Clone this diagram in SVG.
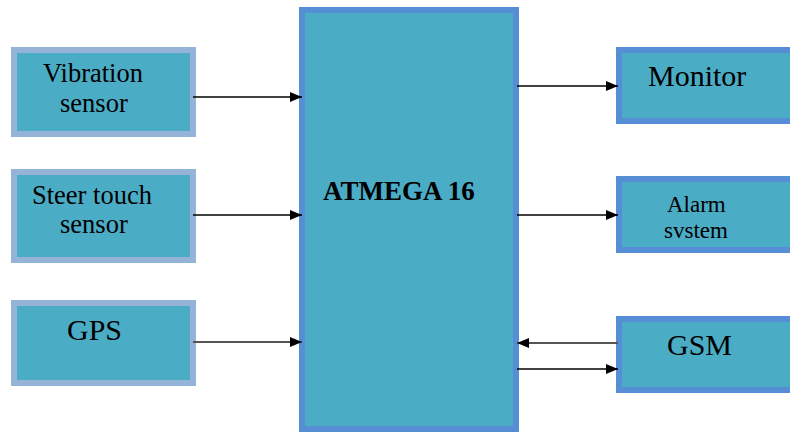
<svg xmlns="http://www.w3.org/2000/svg" width="790" height="433" viewBox="0 0 790 433">
<defs>
<marker id="ah" markerWidth="12" markerHeight="10" refX="12" refY="5" orient="auto" markerUnits="userSpaceOnUse">
<path d="M0,0 L12,5 L0,10 Z" fill="#000"/>
</marker>
</defs>
<style>
.box{fill:#4bacc6}
.lb{stroke:#95b3d7;stroke-width:6}
.rb{stroke:#558ed5;stroke-width:6}
text{fill:#000;font-family:Liberation Serif, DejaVu Serif, serif}
.c{stroke:#000;stroke-width:1.6;fill:none;marker-end:url(#ah)}
.g{stroke:#555;stroke-width:2}
</style>
<rect width="790" height="433" fill="#fff"/>
<g id="atmega">
<rect class="box rb" x="302" y="10" width="214" height="419"/>
<text x="323" y="200" font-size="27" font-weight="bold">ATMEGA 16</text>
</g>
<g id="vibration">
<rect class="box lb" x="14" y="50" width="179" height="84"/>
<text x="43" y="82" font-size="26.5">Vibration</text>
<text x="60" y="112" font-size="26.5">sensor</text>
</g>
<g id="steer">
<rect class="box lb" x="14" y="172" width="179" height="88"/>
<text x="32" y="204" font-size="26.5">Steer touch</text>
<text x="60" y="233" font-size="26.5">sensor</text>
</g>
<g id="gps">
<rect class="box lb" x="14" y="303" width="179" height="80"/>
<text x="67" y="340" font-size="30">GPS</text>
</g>
<g id="monitor">
<rect class="box rb" x="619" y="50" width="200" height="71"/>
<text x="648" y="86" font-size="30">Monitor</text>
</g>
<g id="alarm">
<rect class="box rb" x="619" y="179" width="200" height="71"/>
<text x="667" y="212" font-size="23">Alarm</text>
<text x="664" y="238" font-size="23">svstem</text>
</g>
<g id="gsm">
<rect class="box rb" x="619" y="319" width="200" height="71"/>
<text x="667" y="355" font-size="30">GSM</text>
</g>
<g id="connectors">
<line class="c" x1="193" y1="97" x2="302" y2="97"/>
<line class="c" x1="193" y1="215" x2="302" y2="215"/>
<line class="c g" x1="193" y1="342" x2="302" y2="342"/>
<line class="c" x1="517" y1="86" x2="618" y2="86"/>
<line class="c" x1="517" y1="215" x2="618" y2="215"/>
<line class="c g" x1="618" y1="343" x2="517" y2="343"/>
<line class="c" x1="517" y1="369" x2="618" y2="369"/>
</g>
</svg>
